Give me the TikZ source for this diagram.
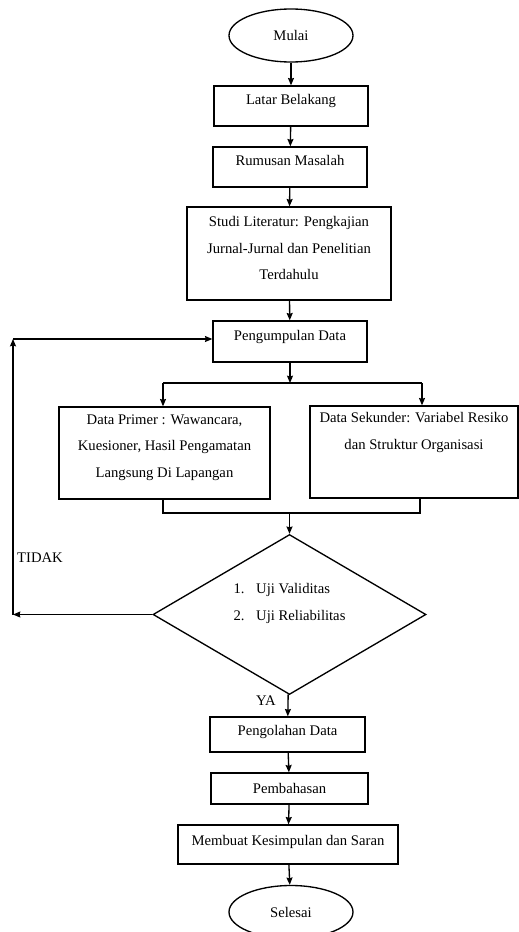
\documentclass[tikz,border=0pt]{standalone}
\usepackage{fontspec}
\setmainfont{Liberation Serif}
\usetikzlibrary{shapes.geometric,arrows.meta}
\begin{document}
\begin{tikzpicture}[>={Stealth[length=5.5pt,width=4.5pt,inset=0.6pt]},x=0.75pt,y=-0.75pt,line width=1pt,font=\fontsize{11}{20}\selectfont,
 kotak/.style={draw,rectangle,inner sep=2pt},
 bulat/.style={draw,ellipse,inner sep=0pt,minimum width=93pt,minimum height=39.75pt},
 naik/.style={text height=8pt,text depth=#1},
 blok/.style n args={2}{text height=#1,text depth=#2}]
 \useasboundingbox (0,0) rectangle (518,932);
 % alur utama
 \node[bulat] (mulai) at (291,35.5) {Mulai};
 \node[kotak,minimum width=115.5pt,minimum height=30pt,naik=10pt] (latar) at (291,106) {Latar Belakang};
 \node[kotak,minimum width=115.5pt,minimum height=30pt,naik=10pt] (rumusan) at (290,167) {Rumusan Masalah};
 \node[kotak,minimum width=153pt,minimum height=69.75pt,align=center,blok={42pt}{2.5pt}] (studi) at (289,253.5) {Studi Literatur: Pengkajian\\Jurnal-Jurnal dan Penelitian\\Terdahulu};
 \node[kotak,minimum width=115.5pt,minimum height=30.75pt,naik=10pt] (kumpul) at (290,341.5) {Pengumpulan Data};
 \node[kotak,minimum width=158.25pt,minimum height=69pt,align=center,blok={39pt}{2.5pt}] (primer) at (164.5,453) {Data Primer : Wawancara,\\Kuesioner, Hasil Pengamatan\\Langsung Di Lapangan};
 \node[kotak,minimum width=156pt,minimum height=69pt,align=center,blok={16.2pt}{20pt}] (sekunder) at (414,452) {Data Sekunder: Variabel Resiko\\dan Struktur Organisasi};
 \node[draw,diamond,aspect=1.7,inner sep=2pt,minimum width=204.75pt,minimum height=120pt,align=left,blok={11.5pt}{2.5pt}] (uji) at (289.5,614.5) {\makebox[17pt][l]{1.}Uji Validitas\\\makebox[17pt][l]{2.}Uji Reliabilitas};
 \node[kotak,minimum width=116.25pt,minimum height=26.25pt,naik=6.2pt] (olah) at (287.5,734.5) {Pengolahan Data};
 \node[kotak,minimum width=117.75pt,minimum height=23.25pt] (bahas) at (289.5,788.5) {Pembahasan};
 \node[kotak,minimum width=165pt,minimum height=29.25pt,naik=7pt] (simpul) at (288,844.5) {Membuat Kesimpulan dan Saran};
 \node[bulat] (selesai) at (291,912) {Selesai};
 \node (tidak) at (40,558) {TIDAK};
 \node (ya) at (266,701) {YA};
 % titik bantu
 \coordinate (cab) at (290,383);
 \coordinate (cabkiri) at (163,383);
 \coordinate (cabkanan) at (422,383);
 \coordinate (gabkiri) at (163,513);
 \coordinate (gabkanan) at (420,513);
 \coordinate (gab) at (289.5,513);
 \coordinate (balik1) at (13,614.5);
 \coordinate (balik2) at (13,339);
 % panah
 \draw[->] (mulai) -- (latar);
 \draw[->] (latar) -- (rumusan);
 \draw[->] (rumusan) -- (studi);
 \draw[->] (studi) -- (kumpul);
 \draw[->] (kumpul) -- (cab);
 \draw (cabkiri) -- (cabkanan);
 \draw[->] (cabkiri) -- (cabkiri |- primer.north);
 \draw[->] (cabkanan) -- (cabkanan |- sekunder.north);
 \draw (gabkiri |- primer.south) -- (gabkiri) -- (gabkanan) -- (gabkanan |- sekunder.south);
 \draw[->] (gab) -- (uji);
 \draw[->] (uji) -- (balik1);
 \draw[->] (balik1) -- (balik2);
 \draw[->] (balik2) -- (kumpul.west |- balik2);
 \draw[->] (uji) -- (olah);
 \draw[->] (olah) -- (bahas);
 \draw[->] (bahas) -- (simpul);
 \draw[->] (simpul) -- (selesai);
\end{tikzpicture}
\end{document}
